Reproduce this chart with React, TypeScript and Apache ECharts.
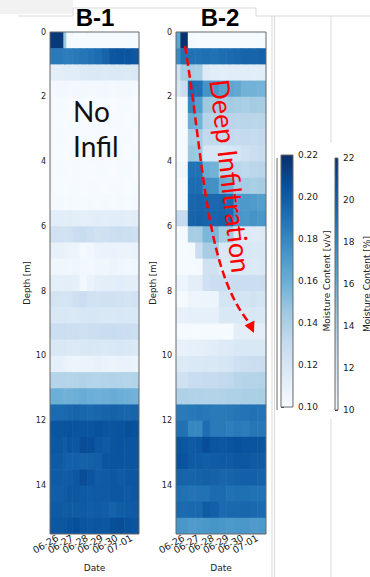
import React, { useEffect, useRef } from "react";
import * as echarts from "echarts";

// ---------- data ----------
const dateLabels = ["06-26", "06-27", "06-28", "06-29", "06-30", "07-01"];
const dateTickPositions = [0, 1, 2, 3, 4, 5];
const depthTicks = [0, 2, 4, 6, 8, 10, 12, 14];
const depthEdges = [
  0, 0.5, 1, 1.5, 2, 2.5, 3, 3.5, 4, 4.5, 5, 5.5, 6, 6.5, 7, 7.5, 8, 8.5, 9, 9.5,
  10, 10.5, 11, 11.5, 12, 12.5, 13, 13.5, 14, 14.5, 15, 15.5,
];
// time edges of the measurement columns (days after 06-26)
const b1TimeEdges = [-0.5, 0.4, 0.6, 1.0, 1.5, 2.0, 2.5, 3.0, 3.5, 4.0, 4.5, 5.0, 5.5];
const b2TimeEdges = [-0.5, -0.2, 0.3, 0.8, 1.3, 1.8, 2.4, 2.9, 3.4, 3.9, 4.5, 5.0, 5.6];

// moisture content [v/v], one row per 0.5 m depth, one value per column
const b1Moisture = [
  [0.216, 0.145, 0.102, 0.101, 0.101, 0.101, 0.101, 0.101, 0.101, 0.101, 0.101, 0.101],
  [0.186, 0.185, 0.185, 0.186, 0.188, 0.19, 0.192, 0.196, 0.202, 0.203, 0.203, 0.202],
  [0.112, 0.113, 0.113, 0.113, 0.116, 0.117, 0.117, 0.116, 0.117, 0.117, 0.116, 0.117],
  [0.103, 0.103, 0.102, 0.103, 0.103, 0.102, 0.103, 0.103, 0.102, 0.103, 0.103, 0.102],
  [0.101, 0.101, 0.1, 0.101, 0.101, 0.1, 0.101, 0.101, 0.1, 0.101, 0.101, 0.1],
  [0.101, 0.1, 0.101, 0.101, 0.1, 0.101, 0.101, 0.1, 0.101, 0.101, 0.1, 0.101],
  [0.101, 0.101, 0.1, 0.101, 0.101, 0.1, 0.101, 0.101, 0.1, 0.101, 0.101, 0.1],
  [0.101, 0.1, 0.101, 0.101, 0.1, 0.101, 0.101, 0.1, 0.101, 0.101, 0.1, 0.101],
  [0.101, 0.101, 0.1, 0.101, 0.101, 0.1, 0.101, 0.101, 0.1, 0.101, 0.101, 0.1],
  [0.101, 0.1, 0.101, 0.101, 0.1, 0.101, 0.101, 0.1, 0.101, 0.101, 0.1, 0.101],
  [0.102, 0.101, 0.102, 0.101, 0.101, 0.102, 0.101, 0.102, 0.101, 0.102, 0.101, 0.102],
  [0.113, 0.112, 0.113, 0.112, 0.111, 0.112, 0.113, 0.112, 0.113, 0.113, 0.112, 0.113],
  [0.124, 0.123, 0.124, 0.127, 0.128, 0.126, 0.124, 0.125, 0.126, 0.127, 0.126, 0.125],
  [0.109, 0.108, 0.107, 0.106, 0.102, 0.104, 0.107, 0.108, 0.108, 0.107, 0.107, 0.108],
  [0.105, 0.105, 0.104, 0.105, 0.104, 0.103, 0.105, 0.105, 0.106, 0.105, 0.104, 0.105],
  [0.111, 0.112, 0.112, 0.11, 0.103, 0.108, 0.111, 0.112, 0.112, 0.113, 0.112, 0.112],
  [0.122, 0.121, 0.122, 0.125, 0.127, 0.124, 0.123, 0.124, 0.124, 0.123, 0.122, 0.123],
  [0.118, 0.119, 0.118, 0.117, 0.119, 0.12, 0.119, 0.118, 0.118, 0.119, 0.118, 0.118],
  [0.126, 0.127, 0.126, 0.126, 0.125, 0.126, 0.127, 0.128, 0.128, 0.127, 0.127, 0.126],
  [0.118, 0.119, 0.117, 0.116, 0.118, 0.119, 0.118, 0.117, 0.118, 0.119, 0.118, 0.117],
  [0.11, 0.108, 0.107, 0.106, 0.107, 0.108, 0.109, 0.108, 0.107, 0.108, 0.108, 0.107],
  [0.136, 0.137, 0.136, 0.137, 0.138, 0.137, 0.136, 0.137, 0.138, 0.137, 0.136, 0.137],
  [0.16, 0.158, 0.159, 0.16, 0.161, 0.16, 0.159, 0.16, 0.161, 0.16, 0.159, 0.158],
  [0.193, 0.194, 0.195, 0.196, 0.195, 0.194, 0.195, 0.196, 0.197, 0.196, 0.195, 0.196],
  [0.203, 0.205, 0.205, 0.204, 0.204, 0.203, 0.205, 0.204, 0.203, 0.204, 0.206, 0.205],
  [0.202, 0.2, 0.203, 0.202, 0.207, 0.206, 0.202, 0.201, 0.203, 0.204, 0.203, 0.203],
  [0.201, 0.199, 0.198, 0.198, 0.197, 0.198, 0.199, 0.203, 0.204, 0.204, 0.203, 0.203],
  [0.2, 0.2, 0.201, 0.202, 0.207, 0.203, 0.2, 0.201, 0.202, 0.201, 0.202, 0.202],
  [0.199, 0.201, 0.202, 0.202, 0.201, 0.2, 0.201, 0.201, 0.202, 0.202, 0.201, 0.202],
  [0.201, 0.2, 0.201, 0.2, 0.201, 0.199, 0.2, 0.199, 0.197, 0.199, 0.2, 0.201],
  [0.202, 0.203, 0.205, 0.206, 0.203, 0.202, 0.203, 0.202, 0.206, 0.207, 0.204, 0.203],
];

const b2Moisture = [
  [0.165, 0.219, 0.102, 0.101, 0.101, 0.101, 0.101, 0.101, 0.101, 0.101, 0.101, 0.101],
  [0.178, 0.19, 0.19, 0.19, 0.191, 0.19, 0.192, 0.193, 0.194, 0.196, 0.196, 0.197],
  [0.124, 0.142, 0.142, 0.141, 0.115, 0.113, 0.112, 0.113, 0.114, 0.113, 0.112, 0.113],
  [0.118, 0.127, 0.192, 0.19, 0.174, 0.172, 0.166, 0.165, 0.163, 0.158, 0.158, 0.157],
  [0.101, 0.102, 0.18, 0.168, 0.145, 0.143, 0.142, 0.143, 0.142, 0.141, 0.143, 0.142],
  [0.101, 0.101, 0.16, 0.158, 0.136, 0.135, 0.134, 0.135, 0.134, 0.135, 0.134, 0.135],
  [0.101, 0.101, 0.142, 0.142, 0.131, 0.131, 0.13, 0.131, 0.13, 0.131, 0.13, 0.131],
  [0.101, 0.101, 0.146, 0.145, 0.12, 0.12, 0.119, 0.12, 0.122, 0.125, 0.127, 0.128],
  [0.104, 0.105, 0.19, 0.19, 0.16, 0.158, 0.135, 0.134, 0.134, 0.133, 0.134, 0.135],
  [0.101, 0.101, 0.192, 0.192, 0.176, 0.175, 0.16, 0.158, 0.142, 0.142, 0.141, 0.142],
  [0.101, 0.101, 0.195, 0.196, 0.195, 0.194, 0.195, 0.193, 0.17, 0.171, 0.17, 0.168],
  [0.13, 0.13, 0.196, 0.197, 0.196, 0.195, 0.196, 0.194, 0.173, 0.172, 0.174, 0.172],
  [0.101, 0.102, 0.142, 0.142, 0.155, 0.155, 0.142, 0.142, 0.116, 0.116, 0.115, 0.116],
  [0.101, 0.101, 0.102, 0.127, 0.142, 0.142, 0.118, 0.118, 0.118, 0.119, 0.118, 0.118],
  [0.101, 0.101, 0.101, 0.102, 0.124, 0.124, 0.116, 0.116, 0.116, 0.117, 0.116, 0.117],
  [0.106, 0.106, 0.112, 0.112, 0.125, 0.127, 0.127, 0.127, 0.128, 0.127, 0.127, 0.127],
  [0.101, 0.101, 0.106, 0.106, 0.106, 0.106, 0.122, 0.122, 0.122, 0.122, 0.123, 0.122],
  [0.109, 0.109, 0.11, 0.11, 0.11, 0.11, 0.118, 0.118, 0.118, 0.118, 0.119, 0.118],
  [0.101, 0.101, 0.101, 0.101, 0.101, 0.101, 0.101, 0.101, 0.112, 0.112, 0.112, 0.112],
  [0.109, 0.109, 0.11, 0.111, 0.112, 0.113, 0.115, 0.116, 0.118, 0.118, 0.118, 0.118],
  [0.116, 0.116, 0.117, 0.117, 0.118, 0.118, 0.12, 0.121, 0.125, 0.126, 0.127, 0.127],
  [0.124, 0.124, 0.128, 0.128, 0.13, 0.13, 0.131, 0.132, 0.135, 0.136, 0.136, 0.137],
  [0.139, 0.139, 0.138, 0.138, 0.137, 0.137, 0.138, 0.139, 0.139, 0.14, 0.14, 0.141],
  [0.186, 0.186, 0.187, 0.188, 0.187, 0.186, 0.186, 0.187, 0.188, 0.189, 0.19, 0.189],
  [0.19, 0.19, 0.18, 0.18, 0.192, 0.186, 0.186, 0.184, 0.186, 0.185, 0.188, 0.187],
  [0.203, 0.202, 0.201, 0.202, 0.207, 0.203, 0.202, 0.204, 0.205, 0.204, 0.204, 0.203],
  [0.205, 0.204, 0.201, 0.2, 0.199, 0.2, 0.201, 0.201, 0.202, 0.202, 0.201, 0.201],
  [0.197, 0.196, 0.196, 0.197, 0.198, 0.197, 0.195, 0.196, 0.197, 0.198, 0.198, 0.197],
  [0.191, 0.19, 0.189, 0.19, 0.19, 0.193, 0.193, 0.19, 0.191, 0.191, 0.19, 0.19],
  [0.194, 0.193, 0.194, 0.194, 0.2, 0.198, 0.193, 0.194, 0.194, 0.195, 0.194, 0.193],
  [0.173, 0.172, 0.17, 0.171, 0.172, 0.173, 0.172, 0.171, 0.172, 0.172, 0.17, 0.171],
];

const colorbarVV = [0.1, 0.22];
const colorbarPct = [10, 22];

const BLUES = ["#f7fbff", "#deebf7", "#c6dbef", "#9ecae1", "#6baed6", "#4292c6", "#2171b5", "#08519c", "#08306b"];

function buildCells(edges: number[], values: number[][]) {
  const out: number[][] = [];
  for (let r = 0; r < values.length; r++) {
    for (let c = 0; c < values[r].length; c++) {
      out.push([edges[c], edges[c + 1], depthEdges[r], depthEdges[r + 1], values[r][c]]);
    }
  }
  return out;
}

const FONT = "DejaVu Sans";
const AX = "#333";

function cellRender(params: any, api: any) {
  const p0 = api.coord([api.value(0), api.value(2)]);
  const p1 = api.coord([api.value(1), api.value(3)]);
  return {
    type: "rect",
    shape: {
      x: Math.min(p0[0], p1[0]),
      y: Math.min(p0[1], p1[1]),
      width: Math.abs(p1[0] - p0[0]) + 0.6,
      height: Math.abs(p1[1] - p0[1]) + 0.6,
    },
    style: { fill: api.visual("color") },
  };
}

function barRender(params: any, api: any) {
  const p0 = api.coord([api.value(0), api.value(2)]);
  const p1 = api.coord([api.value(1), api.value(3)]);
  return {
    type: "rect",
    shape: {
      x: Math.min(p0[0], p1[0]),
      y: Math.min(p0[1], p1[1]),
      width: Math.abs(p1[0] - p0[0]),
      height: Math.abs(p1[1] - p0[1]),
    },
    style: {
      fill: new echarts.graphic.LinearGradient(
        0, 1, 0, 0,
        BLUES.map((c, i) => ({ offset: i / (BLUES.length - 1), color: c }))
      ),
    },
  };
}

function heatX(gridIndex: number, min: number, max: number) {
  // empty guard labels at both ends keep the min/max-label logic from hiding real dates
  const labelValues = [min, ...dateTickPositions, max];
  return {
    type: "value",
    gridIndex,
    min,
    max,
    name: "Date",
    nameLocation: "middle",
    nameGap: 29,
    nameTextStyle: { fontFamily: FONT, fontSize: 9, color: "#222" },
    axisLine: { show: false },
    splitLine: { show: false },
    axisTick: { show: true, customValues: dateTickPositions, length: 3, lineStyle: { color: AX } },
    axisLabel: {
      customValues: labelValues,
      rotate: 30,
      margin: 3,
      hideOverlap: false,
      fontFamily: FONT,
      fontSize: 9.5,
      color: "#222",
      formatter: (v: number) => {
        const i = dateTickPositions.indexOf(v);
        return i >= 0 ? dateLabels[i] : "";
      },
    },
  };
}

function heatY(gridIndex: number) {
  return {
    type: "value",
    gridIndex,
    inverse: true,
    min: 0,
    max: 15.5,
    name: "Depth [m]",
    nameLocation: "middle",
    nameGap: 19,
    nameTextStyle: { fontFamily: FONT, fontSize: 8.5, color: "#222" },
    axisLine: { show: false },
    splitLine: { show: false },
    axisTick: { show: true, customValues: depthTicks, length: 3, lineStyle: { color: AX } },
    axisLabel: { customValues: depthTicks, margin: 4, fontFamily: FONT, fontSize: 8, color: "#222" },
  };
}

function cbY(gridIndex: number, range: number[], interval: number, name: string, nameGap: number, fmt: (v: number) => string) {
  return {
    type: "value",
    gridIndex,
    position: "right",
    min: range[0],
    max: range[1],
    interval,
    name,
    nameLocation: "middle",
    nameRotate: 90,
    nameGap,
    nameTextStyle: { fontFamily: FONT, fontSize: 9, color: "#222" },
    axisLine: { show: false },
    splitLine: { show: false },
    axisTick: { show: true, length: 3, lineStyle: { color: AX } },
    axisLabel: { margin: 5, fontFamily: FONT, fontSize: 9, color: "#222", formatter: fmt },
  };
}

const gridBase = { show: true, borderColor: "#666", borderWidth: 1, backgroundColor: "transparent", z: 10 };
const LG = "#d9d9d9";

export default function App() {
  const ref = useRef<HTMLDivElement>(null);
  useEffect(() => {
    if (!ref.current) return;
    const chart = echarts.init(ref.current, null, { renderer: "svg" });
    chart.setOption({
      animation: false,
      backgroundColor: "#ffffff",
      grid: [
        { ...gridBase, left: 50, top: 32, width: 89, height: 505 },
        { ...gridBase, left: 176, top: 32, width: 90, height: 505 },
        { ...gridBase, left: 281, top: 155, width: 12, height: 252 },
        { ...gridBase, left: 335, top: 158, width: 12, height: 252 },
      ],
      xAxis: [
        heatX(0, -0.5, 5.5),
        heatX(1, -0.5, 5.6),
        { type: "value", gridIndex: 2, min: 0, max: 1, show: false },
        { type: "value", gridIndex: 3, min: 0, max: 1, show: false },
      ],
      yAxis: [
        heatY(0),
        heatY(1),
        cbY(2, colorbarVV, 0.02, "Moisture Content [v/v]", 29, (v: number) => v.toFixed(2)),
        cbY(3, colorbarPct, 2, "Moisture Content [%]", 24, (v: number) => String(Math.round(v))),
      ],
      visualMap: {
        type: "continuous",
        show: false,
        min: colorbarVV[0],
        max: colorbarVV[1],
        dimension: 4,
        seriesIndex: [0, 1],
        inRange: { color: BLUES },
      },
      series: [
        {
          type: "custom",
          name: "B-1",
          xAxisIndex: 0,
          yAxisIndex: 0,
          clip: true,
          renderItem: cellRender,
          encode: { x: [0, 1], y: [2, 3] },
          data: buildCells(b1TimeEdges, b1Moisture),
        },
        {
          type: "custom",
          name: "B-2",
          xAxisIndex: 1,
          yAxisIndex: 1,
          clip: true,
          renderItem: cellRender,
          encode: { x: [0, 1], y: [2, 3] },
          data: buildCells(b2TimeEdges, b2Moisture),
        },
        {
          type: "custom",
          xAxisIndex: 2,
          yAxisIndex: 2,
          renderItem: barRender,
          encode: { x: [0, 1], y: [2, 3] },
          data: [[0, 1, colorbarVV[0], colorbarVV[1]]],
        },
        {
          type: "custom",
          xAxisIndex: 3,
          yAxisIndex: 3,
          renderItem: barRender,
          encode: { x: [0, 1], y: [2, 3] },
          data: [[0, 1, colorbarPct[0], colorbarPct[1]]],
        },
      ],
      graphic: [
        { type: "rect", shape: { x: 0, y: 0, width: 73, height: 14 }, style: { fill: "#f2f2f2" }, z: 0 },
        { type: "polyline", shape: { points: [[18, 16], [73, 16], [73, 8], [256, 8], [256, 16], [272, 16]] }, style: { stroke: LG, lineWidth: 1, fill: null } },
        { type: "line", shape: { x1: 272, y1: 16, x2: 370, y2: 16 }, style: { stroke: LG, lineWidth: 1 } },
        { type: "line", shape: { x1: 272, y1: 16, x2: 272, y2: 577 }, style: { stroke: LG, lineWidth: 1 } },
        { type: "line", shape: { x1: 274.5, y1: 16, x2: 274.5, y2: 577 }, style: { stroke: LG, lineWidth: 1 } },
        { type: "line", shape: { x1: 331, y1: 16, x2: 331, y2: 143 }, style: { stroke: LG, lineWidth: 1 } },
        { type: "line", shape: { x1: 331, y1: 419, x2: 331, y2: 577 }, style: { stroke: LG, lineWidth: 1 } },
        { type: "line", shape: { x1: 277, y1: 158, x2: 277, y2: 410 }, style: { stroke: "#9a9a9a", lineWidth: 1.5 } },
        {
          type: "text", x: 95, y: 17,
          style: { text: "B-1", font: "bold 24px 'Liberation Sans'", fill: "#000", align: "center", verticalAlign: "middle" },
        },
        {
          type: "text", x: 220, y: 17,
          style: { text: "B-2", font: "bold 24px 'Liberation Sans'", fill: "#000", align: "center", verticalAlign: "middle" },
        },
        {
          type: "text", x: 73, y: 128, z: 20,
          style: { text: "No\nInfil", font: "28px Lato", lineHeight: 35, fill: "#111", align: "left", verticalAlign: "middle" },
        },
        {
          type: "text", x: 231, y: 176, rotation: -1.457, z: 20,
          style: { text: "Deep Infiltration", font: "27px Lato", fill: "#ff0000", align: "center", verticalAlign: "middle" },
        },
        {
          type: "bezierCurve", z: 20,
          shape: { x1: 185, y1: 46, cpx1: 204, cpy1: 160, cpx2: 205, cpy2: 270, x2: 249.5, y2: 323 },
          style: { stroke: "#ff0000", lineWidth: 2.5, lineDash: [8, 4], fill: null },
        },
        {
          type: "polygon", z: 20,
          shape: { points: [[254, 333], [244.6, 325.5], [254.4, 320.5]] },
          style: { fill: "#ff0000" },
        },
      ],
    });
    return () => chart.dispose();
  }, []);
  return (
    <div
      ref={ref}
      style={{ position: "fixed", left: 0, top: 0, width: 370, height: 577, background: "#fff" }}
    />
  );
}
